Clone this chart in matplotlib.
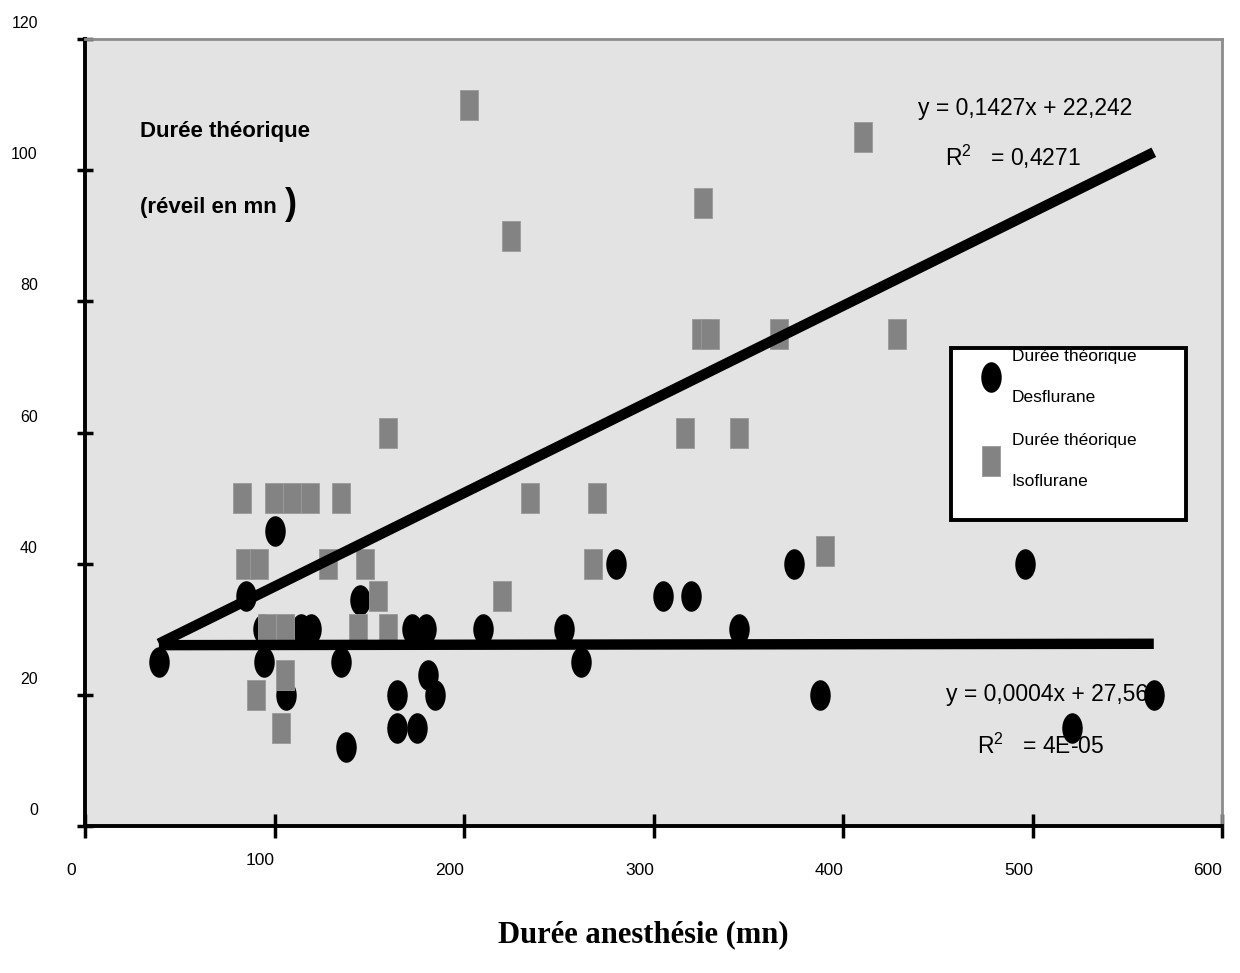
import matplotlib
matplotlib.use("Agg")
import matplotlib.pyplot as plt
import numpy as np
from matplotlib.path import Path
from matplotlib.patches import Rectangle
from matplotlib.transforms import Affine2D, ScaledTranslation

# ---------------- data ----------------
des_x = [39, 85, 100, 94, 94.6, 106, 114, 119, 135, 137.7, 145, 164.4, 164.4, 175,
         172.3, 180, 181, 184.7, 210, 253, 262, 280, 305, 320, 345, 374, 388, 496, 521, 564]
des_y = [25, 35, 45, 30, 25, 20, 30, 30, 25, 12, 34.5, 20, 15, 15,
         30, 30, 23, 20, 30, 30, 25, 40, 35, 35, 30, 40, 20, 40, 15, 20]

iso_x = [82.7, 99.5, 109, 118.5, 135, 84.6, 91.8, 128.4, 147.8, 154.8, 96, 105.4, 105.4,
         143.9, 159.8, 90.2, 103.3, 160, 234.8, 270, 268.2, 219.8, 390.5, 202.6, 224.8,
         326, 325, 330, 366, 428.3, 410.4, 316.6, 345]
iso_y = [50, 50, 50, 50, 50, 40, 40, 40, 40, 35, 30, 30, 23,
         30, 30, 20, 15, 60, 50, 50, 40, 35, 42, 110, 90,
         95, 75, 75, 75, 75, 105, 60, 60]

iso_slope, iso_intercept = 0.1427, 22.242
des_slope, des_intercept = 0.0004, 27.56

x_ticks = [0, 100, 200, 300, 400, 500, 600]
y_ticks = [0, 20, 40, 60, 80, 100, 120]

label_des = "Durée théorique\nDesflurane"
label_iso = "Durée théorique\nIsoflurane"
x_title = "Durée anesthésie (mn)"
y_title_1 = "Durée théorique"
y_title_2 = "(réveil en mn"
eq_iso = "y = 0,1427x + 22,242"
r2_iso = "0,4271"
eq_des = "y = 0,0004x + 27,56"
r2_des = "4E-05"

# ---------------- style ----------------
SANS = ["Liberation Sans", "DejaVu Sans"]
plt.rcParams["mathtext.fontset"] = "custom"
plt.rcParams["mathtext.rm"] = "Liberation Sans"

W, H = 1240, 973
fig = plt.figure(figsize=(W / 100, H / 100), dpi=100)
AX_L, AX_R, AX_T, AX_B = 85, 1222, 39, 826
ax = fig.add_axes([AX_L / W, 1 - AX_B / H, (AX_R - AX_L) / W, (AX_B - AX_T) / H])
ax.set_facecolor("#e3e3e3")


def ax_x(px):
    return (px - AX_L) / (AX_R - AX_L)


def ax_y(py):
    return (AX_B - py) / (AX_B - AX_T)


ellipse = Path.unit_circle().transformed(Affine2D().scale(0.67, 1.0))
rect = Path([(-0.31, -0.5), (0.31, -0.5), (0.31, 0.5), (-0.31, 0.5), (-0.31, -0.5)],
            [Path.MOVETO, Path.LINETO, Path.LINETO, Path.LINETO, Path.CLOSEPOLY])

h_des, = ax.plot(des_x, des_y, linestyle="none", marker=ellipse, markersize=22,
                 color="black", markeredgewidth=0, label=label_des, zorder=3)
h_iso, = ax.plot(iso_x, iso_y, linestyle="none", marker=rect, markersize=21.6,
                 color="#838383", markeredgecolor="#9a9a9a", markeredgewidth=0.6,
                 label=label_iso, zorder=4)

all_x = np.array(des_x + iso_x)
xr = np.array([all_x.min(), all_x.max()])
ax.plot(xr, iso_slope * xr + iso_intercept, color="black", lw=7.5,
        solid_capstyle="butt", zorder=5)
ax.plot(xr, des_slope * xr + des_intercept, color="black", lw=7.5,
        solid_capstyle="butt", zorder=5)

ax.set_xlim(0, 600)
ax.set_ylim(0, 120)
ax.set_xticks(x_ticks)
ax.set_yticks(y_ticks)
ax.set_xticklabels([str(v) for v in x_ticks], fontfamily=SANS, fontsize=12.5)
ax.set_yticklabels([str(v) for v in y_ticks], fontfamily=SANS, fontsize=11.5)

ax.tick_params(axis="y", direction="inout", length=12, width=2.5, pad=28)
ax.tick_params(axis="x", direction="inout", length=17, width=2.5, pad=18)

for lab in ax.get_yticklabels():
    lab.set_transform(lab.get_transform() + ScaledTranslation(0, 0.17, fig.dpi_scale_trans))
for lab in ax.get_xticklabels():
    dy = 0.10 if lab.get_text() == "100" else 0.0
    lab.set_transform(lab.get_transform() + ScaledTranslation(-0.14, dy, fig.dpi_scale_trans))

for s in ["left", "bottom"]:
    ax.spines[s].set_linewidth(2.8)
    ax.spines[s].set_color("black")
for s in ["top", "right"]:
    ax.spines[s].set_linewidth(2.0)
    ax.spines[s].set_color("#8c8c8c")

# texts
fig.text(140 / W, 1 - 131 / H, y_title_1, fontfamily=SANS,
         fontweight="bold", fontsize=16, va="center", ha="left")
fig.text(140 / W, 1 - 207 / H, y_title_2, fontfamily=SANS,
         fontweight="bold", fontsize=16, va="center", ha="left")
fig.text(285 / W, 1 - 204 / H, ")", fontfamily=SANS, fontweight="bold",
         fontsize=26, va="center", ha="left")

fig.text(918 / W, 1 - 108 / H, eq_iso, fontfamily=SANS, fontsize=16.5,
         va="center", ha="left")
fig.text(945 / W, 1 - 157 / H, r"R$^{2}$   = " + r2_iso, fontfamily=SANS, fontsize=16.5,
         va="center", ha="left")
fig.text(946 / W, 1 - 694 / H, eq_des, fontfamily=SANS, fontsize=16.5,
         va="center", ha="left", zorder=1)
fig.text(977 / W, 1 - 746 / H, r"R$^{2}$   = " + r2_des, fontfamily=SANS, fontsize=16.5,
         va="center", ha="left", zorder=1)

fig.text(643 / W, 1 - 935 / H, x_title, fontfamily=["Liberation Serif", "DejaVu Serif"],
         fontweight="bold", fontsize=22, ha="center", va="center")

# legend box
ax.add_patch(Rectangle((ax_x(951), ax_y(520)), ax_x(1186) - ax_x(951), ax_y(348) - ax_y(520),
                       transform=ax.transAxes, facecolor="white", edgecolor="black",
                       linewidth=2.8, zorder=9))
leg = ax.legend(loc="upper left", bbox_to_anchor=(ax_x(982), ax_y(349)),
                frameon=False, prop={"family": SANS, "size": 12.5},
                handletextpad=0.7, handlelength=1.0, labelspacing=1.65,
                borderpad=0, borderaxespad=0)
leg.set_zorder(10)
for t in leg.get_texts():
    t.set_linespacing(3.15)

fig.savefig("out.png", dpi=100)
